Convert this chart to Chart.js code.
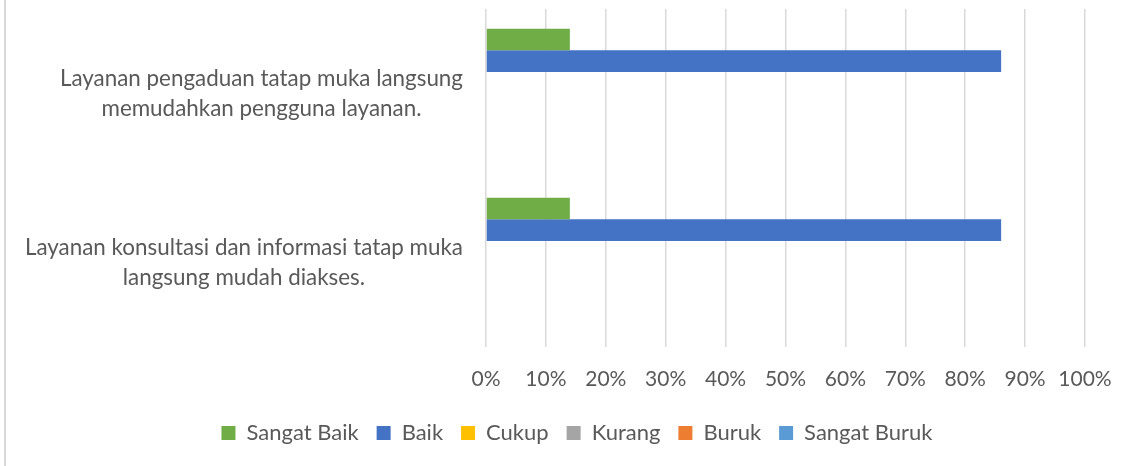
<!DOCTYPE html>
<html><head><meta charset="utf-8">
<script src="https://cdn.jsdelivr.net/npm/chart.js@4"></script>
<style>
html,body{margin:0;padding:0;background:#fff;}
#wrap{position:relative;width:1131px;height:466px;}
#frame{position:absolute;left:4px;top:0;width:0;height:466px;border-left:2px solid #d9d9d9;}
</style>
</head><body>
<div id="wrap"><canvas id="c" width="1131" height="466"></canvas><div id="frame"></div></div>
<script>
const categories = [
  ["Layanan pengaduan tatap muka langsung", "memudahkan pengguna layanan."],
  ["Layanan konsultasi dan informasi tatap muka", "langsung mudah diakses."]
];
const seriesNames = ["Sangat Baik", "Baik", "Cukup", "Kurang", "Buruk", "Sangat Buruk"];
const sangatBaik = [14, 14];
const baik = [86, 86];
const cukup = [0, 0];
const kurang = [0, 0];
const buruk = [0, 0];
const sangatBuruk = [0, 0];
const xTickValues = [0, 10, 20, 30, 40, 50, 60, 70, 80, 90, 100];

const seriesValues = [sangatBaik, baik, cukup, kurang, buruk, sangatBuruk];
const seriesColors = ["#70AD47", "#4472C4", "#FFC000", "#A5A5A5", "#ED7D31", "#5B9BD5"];
const textColor = "#595959";
const fontFamily = "Lato, 'Open Sans', sans-serif";

const centerLines = {
  id: 'centerLines',
  beforeDraw(chart) {
    const s = chart.scales.y;
    const items = s.getLabelItems();
    const ctx = chart.ctx;
    items.forEach(it => {
      ctx.save();
      ctx.font = it.font.string;
      const lines = Array.isArray(it.label) ? it.label : [it.label];
      const w = Math.max(...lines.map(l => ctx.measureText(l).width));
      ctx.restore();
      it.options.textAlign = 'center';
      it.options.translation[0] = s.right - s.options.ticks.padding - w / 2;
    });
  }
};

new Chart(document.getElementById('c'), {
  type: 'bar',
  data: {
    labels: categories,
    datasets: seriesNames.map((name, i) => ({
      label: name,
      data: seriesValues[i],
      backgroundColor: seriesColors[i],
      borderWidth: 0,
      categoryPercentage: 0.767,
      barPercentage: 1.0
    }))
  },
  options: {
    indexAxis: 'y',
    responsive: false,
    animation: false,
    layout: { padding: { top: 9, right: 0, bottom: 12, left: 23 } },
    plugins: {
      tooltip: { enabled: false },
      legend: {
        position: 'bottom',
        labels: {
          color: textColor,
          font: { family: fontFamily, size: 22 },
          boxWidth: 14,
          boxHeight: 14,
          padding: 18
        }
      }
    },
    scales: {
      x: {
        min: 0, max: 100,
        afterBuildTicks: (s) => { s.ticks = xTickValues.map(v => ({ value: v })); },
        ticks: {
          color: textColor,
          font: { family: fontFamily, size: 21 },
          padding: 20,
          callback: (v) => v + '%'
        },
        grid: { color: '#d9d9d9', lineWidth: 1.5, drawTicks: false },
        border: { display: false },
        afterFit: (s) => { s.height = 57; s.paddingRight = 46; }
      },
      y: {
        ticks: {
          color: textColor,
          font: { family: fontFamily, size: 22.4, lineHeight: 1.34 },
          padding: 23,
          autoSkip: false
        },
        grid: { display: false, drawTicks: false },
        border: { display: false },
        afterFit: (s) => { s.width = 463; s.paddingTop = 0; s.paddingBottom = 0; }
      }
    }
  },
  plugins: [centerLines]
});
</script>
</body></html>
